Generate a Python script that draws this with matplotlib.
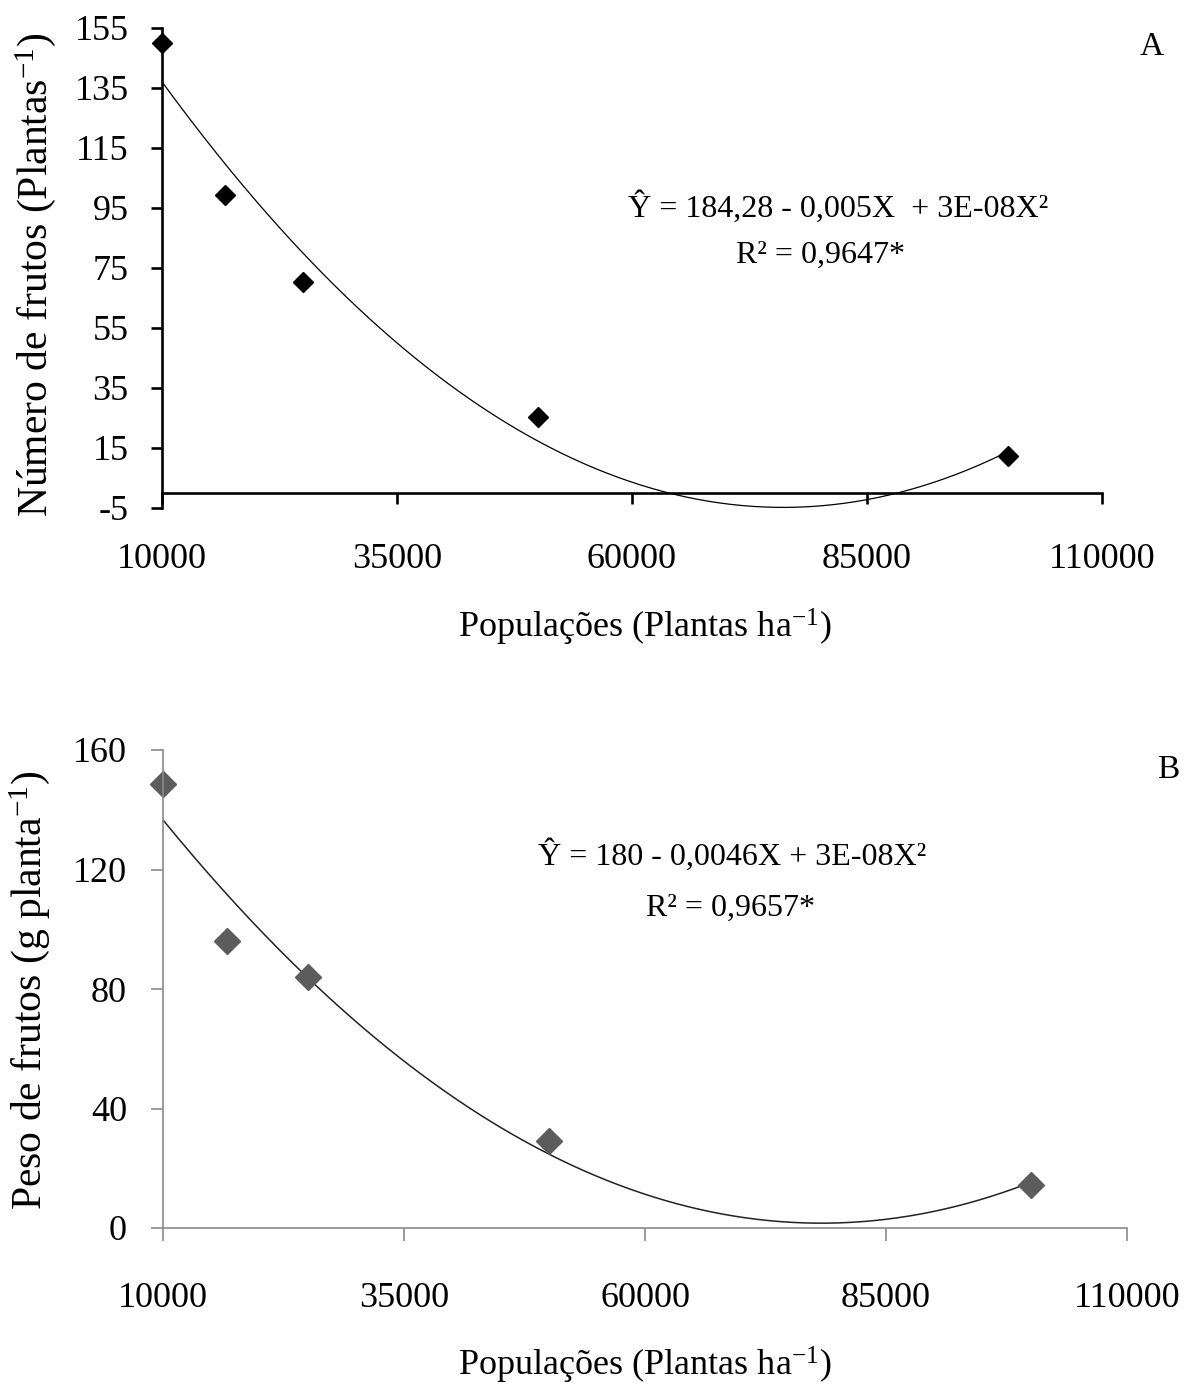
import numpy as np
import matplotlib
matplotlib.use('Agg')
import matplotlib.pyplot as plt

plt.rcParams['font.family'] = ['Liberation Serif', 'DejaVu Serif']
plt.rcParams['mathtext.fontset'] = 'custom'
plt.rcParams['mathtext.rm'] = 'Liberation Serif'
plt.rcParams['mathtext.it'] = 'Liberation Serif:italic'
plt.rcParams['axes.unicode_minus'] = False

# populations (plants per ha)
populacoes = [10000, 16667, 25000, 50000, 100000]
# panel A - number of fruits
num_frutos = [150.0, 99.5, 70.5, 25.5, 12.5]
# panel B - fruit weight
peso_frutos = [148.5, 96.0, 84.0, 29.0, 14.5]

x_ticks = [10000, 35000, 60000, 85000, 110000]
yA_ticks = [-5, 15, 35, 55, 75, 95, 115, 135, 155]
yB_ticks = [0, 40, 80, 120, 160]

eqA = ['\u0176 = 184,28 - 0,005X  + 3E-08X\u00b2', 'R\u00b2 = 0,9647*']
eqB = ['\u0176 = 180 - 0,0046X + 3E-08X\u00b2', 'R\u00b2 = 0,9657*']

W, H = 1189, 1387
fig = plt.figure(figsize=(W / 100, H / 100), dpi=100)

tick_fs = 26
xlab_fs = 26
ylab_fs = 30
eq_fs = 23

def fx(px):
    return px / W

def fy(py):
    return 1 - py / H

# ---------- panel A ----------
axA = fig.add_axes([fx(162), fy(508), (1102 - 162) / W, (508 - 28) / H])
xs = np.array(populacoes, dtype=float)
cA = np.polyfit(xs, num_frutos, 2)
xx = np.linspace(10000, 100000, 300)
axA.plot(xx, np.polyval(cA, xx), color='black', lw=0.9)
axA.plot(populacoes, num_frutos, 'D', color='black', ms=10.5, clip_on=False)
axA.set_xlim(10000, 110000)
axA.set_ylim(-5, 155)
axA.set_xticks(x_ticks)
axA.set_yticks(yA_ticks)
axA.spines['top'].set_visible(False)
axA.spines['right'].set_visible(False)
axA.spines['bottom'].set_position(('data', 0))
for s in ['left', 'bottom']:
    axA.spines[s].set_linewidth(1.9)
axA.tick_params(axis='both', direction='out', length=8, width=1.9, labelsize=tick_fs)
axA.tick_params(axis='x', pad=28)
axA.tick_params(axis='y', pad=16)
axA.set_ylabel('Número de frutos (Plantas$^{\\mathrm{-1}}$)', fontsize=ylab_fs,
               va='center')
axA.yaxis.set_label_coords(-0.135, 0.485)
fig.text(fx(645), fy(627), 'Populações (Plantas ha$^{\\mathrm{-1}}$)', fontsize=xlab_fs,
         ha='center', va='center')
fig.text(fx(838), fy(207), eqA[0], fontsize=eq_fs, ha='center', va='center')
fig.text(fx(821), fy(255), eqA[1], fontsize=eq_fs, ha='center', va='center')
fig.text(fx(1152), fy(47), 'A', fontsize=24, ha='center', va='center')

# ---------- panel B ----------
gray = '#8a8a8a'
axB = fig.add_axes([fx(163), fy(1228), (1127 - 163) / W, (1228 - 750) / H])
cB = np.polyfit(xs, peso_frutos, 2)
axB.plot(xx, np.polyval(cB, xx), color='#222222', lw=1.1)
axB.plot(populacoes, peso_frutos, 'D', color='#5c5c5c', ms=13, clip_on=False)
axB.set_xlim(10000, 110000)
axB.set_ylim(0, 160)
axB.set_xticks(x_ticks)
axB.set_yticks(yB_ticks)
axB.spines['top'].set_visible(False)
axB.spines['right'].set_visible(False)
for s in ['left', 'bottom']:
    axB.spines[s].set_linewidth(1.2)
    axB.spines[s].set_color(gray)
axB.tick_params(axis='both', direction='out', length=9, width=1.2, color=gray,
                labelsize=tick_fs)
axB.tick_params(axis='x', pad=30)
axB.tick_params(axis='y', pad=17)
axB.set_ylabel('Peso de frutos (g planta$^{\\mathrm{-1}}$)', fontsize=ylab_fs,
               va='center')
axB.yaxis.set_label_coords(-0.138, 0.498)
fig.text(fx(645), fy(1365), 'Populações (Plantas ha$^{\\mathrm{-1}}$)', fontsize=xlab_fs,
         ha='center', va='center')
fig.text(fx(732), fy(855), eqB[0], fontsize=eq_fs, ha='center', va='center')
fig.text(fx(730), fy(908), eqB[1], fontsize=eq_fs, ha='center', va='center')
fig.text(fx(1168), fy(770), 'B', fontsize=24, ha='center', va='center')

fig.savefig('out.png', dpi=100)
